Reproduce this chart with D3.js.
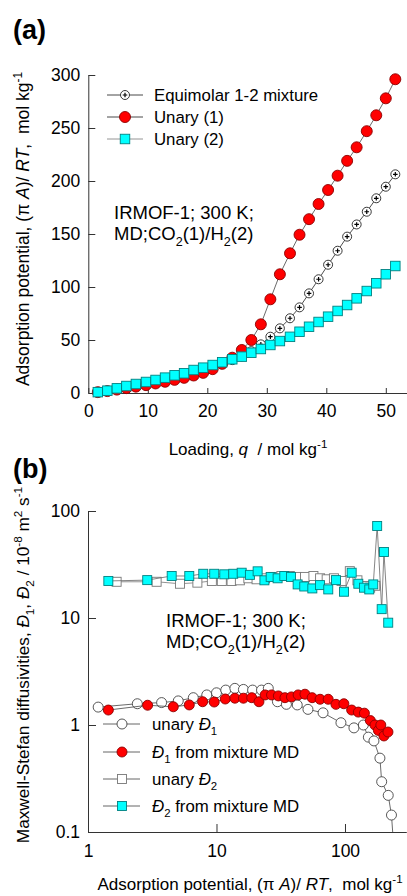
<!DOCTYPE html>
<html><head><meta charset="utf-8">
<script src="https://cdn.jsdelivr.net/npm/d3@7"></script>
<style>body{margin:0;background:#fff}svg{display:block;font-family:"Liberation Sans",Arial,sans-serif}</style>
</head><body>
<script>
// ---------- Panel (a) data ----------
const loadingA = [1.6,3.2,4.8,6.4,8.0,9.7,11.3,12.9,14.5,16.1,17.7,19.3,20.9,22.5,24.2,25.8,27.4,29.0,30.6,32.2,33.9,35.5,37.1,38.7,40.3,41.9,43.5,45.1,46.8,48.4,50.0,51.6];
const unary1A = [0.8,1.8,3.2,4.6,6.0,7.4,9.0,10.6,12.4,14.3,16.5,19.0,22.5,27.5,33.3,40.6,50.0,64.8,88.4,112,131.8,149.3,164,178.3,191.5,205,219,231.8,247,262,278,296];
const unary2A = [0.8,2.2,4.4,6.6,8.5,10.4,12.3,14.5,16.7,18.6,21.7,23.9,26.4,29.0,31.8,34.3,38.0,41.5,45.3,49.0,53.0,57.8,62.5,67.0,72.0,77.4,83.0,89.3,96.2,103.5,112,119.8];
const mixtureA = [0.8,2.0,3.8,5.6,7.3,9.0,10.8,12.6,14.6,16.5,19.2,21.5,24.3,27.5,31.0,34.5,39.5,45.9,53.1,61.0,70.5,80.8,94.0,107.3,121.0,134.2,147.5,159.0,171.0,183.7,194.6,206.3];
const xTicksA = [0,10,20,30,40,50];
const yTicksA = [0,50,100,150,200,250,300];

// ---------- Panel (b) data ----------
const d1UnaryX = [1.2,2.42,3.74,5.04,6.6,8.4,10.0,11.8,13.9,16.2,19.1,22.4,25.3,29.8,35,42.5,51.5,67.5,93,117.4,139,152,168,187,193,217,230,245];
const d1UnaryY = [1.47,1.58,1.62,1.68,1.80,1.91,2.0,2.12,2.2,2.15,2.12,2.12,2.2,1.65,1.56,1.54,1.40,1.30,1.05,0.94,1.0,0.77,0.71,0.49,0.295,0.22,0.144,0.05];
const d1MixX = [1.44,2.91,4.61,6.14,7.8,9.6,11.7,13.9,16.2,18.8,21.4,23.9,26.8,30.3,34.1,38.3,43.2,48.8,55.5,64,74,85,98,112.7,127,141.6,157.5,171,182,190,201,216];
const d1MixY = [1.38,1.53,1.48,1.54,1.65,1.64,1.75,1.78,1.78,1.80,1.65,1.91,1.91,1.87,1.80,1.83,1.91,1.94,1.80,1.74,1.74,1.56,1.58,1.38,1.32,1.29,1.10,1.0,0.89,1.0,0.79,0.86];
const d2UnaryX = [1.67,3.42,5.2,7.1,9.2,11,13.1,15.2,17.7,20.5,23.9,27.6,32,37.2,42,48.8,56.8,64,72,82,94,109,125,143,157,172];
const d2UnaryY = [21.8,21.8,20.9,21.4,22.2,22.2,22.2,22.5,23.5,23,23.5,24.2,24.7,24.7,24.2,24.2,24.7,23.5,23,23.5,22.2,27.4,22.5,19.9,19.2,20.0];
const d2MixX = [1.44,2.89,4.48,6.14,7.89,9.6,11.5,13.5,15.7,18.2,20.9,23.6,26.4,29.9,33.7,38,42.8,48.2,55.7,63.9,74.1,85.1,98.2,112.7,127,140.7,154.5,166,178,193,201,217];
const d2MixY = [22.2,22.6,24.7,24.7,25.9,25.9,25.6,25.9,26.5,25.3,27.3,22.5,24.2,23.5,24.7,24.2,20.6,19.7,18.9,20.3,18.5,22.6,17.6,26.5,20.9,19.2,18.5,20.6,72.4,12.1,41.4,9.04];
const xTicksB = [1,10,100];
const yTicksB = [0.1,1,10,100];

const W = 407, H = 896;
const svg = d3.select("body").append("svg").attr("width", W).attr("height", H);

function rich(textSel, parts, fs) {
  let cur = 0;
  parts.forEach(([t, m]) => {
    const ts = textSel.append("tspan").text(t);
    let target = 0;
    if (m === "sub" || m === "isub") target = 0.3 * fs;
    if (m === "sup") target = -0.42 * fs;
    if (target !== cur) { ts.attr("dy", target - cur); cur = target; }
    if (m === "sub" || m === "sup" || m === "isub") ts.attr("font-size", fs * 0.68);
    if (m === "i") ts.attr("font-style", "italic");
  });
}

const AX = "#333";
function styleAxis(g) {
  g.selectAll("path.domain").attr("stroke", AX).attr("stroke-width", 1);
  g.selectAll(".tick line").attr("stroke", AX);
  g.selectAll("text").attr("fill", "#000").attr("font-size", 17.5).attr("font-family", "Liberation Sans, Arial, sans-serif");
}

// ================= Panel (a) =================
const xA = d3.scaleLinear().domain([0, 54]).range([88.3, 409.6]);
const yA = d3.scaleLinear().domain([0, 300]).range([393, 75]);

svg.append("text").attr("x", 13).attr("y", 39).attr("font-size", 27).attr("font-weight", "bold").text("(a)");

const gxA = svg.append("g").attr("transform", `translate(0,${yA(0)})`);
gxA.call(d3.axisBottom(xA).tickValues(d3.range(0, 54, 2)).tickSize(-5).tickSizeOuter(0).tickFormat(""));
gxA.call(d3.axisBottom(xA).tickValues(xTicksA).tickSize(-5).tickSizeOuter(0).tickPadding(12));
styleAxis(gxA);
const gyA = svg.append("g").attr("transform", `translate(${xA(0)},0)`);
gyA.call(d3.axisLeft(yA).tickValues(d3.range(0, 301, 10)).tickSize(-5).tickSizeOuter(0).tickFormat(""));
gyA.call(d3.axisLeft(yA).tickValues(yTicksA).tickSize(-7).tickSizeOuter(0).tickPadding(8));
styleAxis(gyA);

const xlabA = svg.append("text").attr("x", 248).attr("y", 455).attr("text-anchor", "middle").attr("font-size", 17).attr("xml:space", "preserve");
rich(xlabA, [["Loading, ", ""], ["q", "i"], ["  / mol kg", ""], ["-1", "sup"]], 17);
const ylabA = svg.append("text").attr("transform", "translate(29,229) rotate(-90)").attr("text-anchor", "middle").attr("font-size", 17.5).attr("xml:space", "preserve");
rich(ylabA, [["Adsorption potential, (\u03C0 ", ""], ["A", "i"], [")/ ", ""], ["RT", "i"], [",  mol kg", ""], ["-1", "sup"]], 17.5);

const lineA = d3.line().x(d => xA(d[0])).y(d => yA(d[1]));
const mixData = d3.zip(loadingA, mixtureA);
const u1Data = d3.zip(loadingA, unary1A);
const u2Data = d3.zip(loadingA, unary2A);

function drawMix(g, pts, sx, sy, r) {
  const gg = g.append("g");
  pts.forEach(d => {
    const cx = sx(d), cy = sy(d);
    gg.append("circle").attr("cx", cx).attr("cy", cy).attr("r", r).attr("fill", "#fff").attr("stroke", "#222").attr("stroke-width", 0.9);
    gg.append("path").attr("d", `M${cx-2.3},${cy}H${cx+2.3}M${cx},${cy-2.3}V${cy+2.3}`).attr("stroke", "#000").attr("stroke-width", 1.2);
  });
}
function drawCircles(g, pts, sx, sy, r, fill, stroke) {
  g.append("g").selectAll("circle").data(pts).join("circle")
    .attr("cx", sx).attr("cy", sy).attr("r", r).attr("fill", fill).attr("stroke", stroke).attr("stroke-width", 0.9);
}
function drawSquares(g, pts, sx, sy, s, fill, stroke) {
  g.append("g").selectAll("rect").data(pts).join("rect")
    .attr("x", d => sx(d) - s / 2).attr("y", d => sy(d) - s / 2).attr("width", s).attr("height", s)
    .attr("fill", fill).attr("stroke", stroke).attr("stroke-width", 0.9);
}

const pA = svg.append("g");
pA.append("path").datum(mixData).attr("d", lineA).attr("fill", "none").attr("stroke", "#222").attr("stroke-width", 0.8);
drawMix(pA, mixData, d => xA(d[0]), d => yA(d[1]), 4.5);
pA.append("path").datum(u1Data).attr("d", lineA).attr("fill", "none").attr("stroke", "#444").attr("stroke-width", 0.8);
drawCircles(pA, u1Data, d => xA(d[0]), d => yA(d[1]), 5.5, "#ff0000", "#8b0000");
pA.append("path").datum(u2Data).attr("d", lineA).attr("fill", "none").attr("stroke", "#888").attr("stroke-width", 0.8);
drawSquares(pA, u2Data, d => xA(d[0]), d => yA(d[1]), 9.5, "#00ffff", "#008080");

const legA = svg.append("g");
const legItemsA = ["Equimolar 1-2 mixture", "Unary (1)", "Unary (2)"];
const legYA = [95, 117, 139];
legItemsA.forEach((lab, i) => {
  const y = legYA[i];
  legA.append("line").attr("x1", 107).attr("x2", 143).attr("y1", y).attr("y2", y).attr("stroke", i === 2 ? "#888" : "#333").attr("stroke-width", 0.9);
  if (i === 0) drawMix(legA, [0], () => 125, () => y, 4.5);
  if (i === 1) drawCircles(legA, [0], () => 125, () => y, 5.5, "#ff0000", "#8b0000");
  if (i === 2) drawSquares(legA, [0], () => 125, () => y, 9.5, "#00ffff", "#008080");
  legA.append("text").attr("x", 154).attr("y", y + 6).attr("font-size", 16.8).text(lab);
});

svg.append("text").attr("x", 114).attr("y", 219).attr("font-size", 18.5).text("IRMOF-1; 300 K;");
const annA = svg.append("text").attr("x", 114).attr("y", 240).attr("font-size", 18.5);
rich(annA, [["MD;CO", ""], ["2", "sub"], ["(1)/H", ""], ["2", "sub"], ["(2)", ""]], 18.5);

// ================= Panel (b) =================
const xB = d3.scaleLog().domain([1, 300]).range([88, 406.3]);
const yB = d3.scaleLog().domain([0.1, 100]).range([832, 511]);

svg.append("text").attr("x", 13).attr("y", 478).attr("font-size", 27).attr("font-weight", "bold").text("(b)");

const minorX = [];
[1, 10, 100].forEach(d => { for (let k = 2; k <= 9; k++) if (d * k <= 300) minorX.push(d * k); });
const minorY = [];
[0.1, 1, 10].forEach(d => { for (let k = 2; k <= 9; k++) minorY.push(d * k); });

const gxB = svg.append("g").attr("transform", `translate(0,${yB(0.1)})`);
gxB.call(d3.axisBottom(xB).tickValues(minorX).tickSize(-5).tickSizeOuter(0).tickFormat(""));
gxB.call(d3.axisBottom(xB).tickValues(xTicksB).tickSize(-8).tickSizeOuter(0).tickPadding(13).tickFormat(d3.format("")));
styleAxis(gxB);
const gyB = svg.append("g").attr("transform", `translate(${xB(1)},0)`);
gyB.call(d3.axisLeft(yB).tickValues(minorY).tickSize(-5).tickSizeOuter(0).tickFormat(""));
gyB.call(d3.axisLeft(yB).tickValues(yTicksB).tickSize(-8).tickSizeOuter(0).tickPadding(8).tickFormat(d => d < 1 ? "0.1" : String(d)));
styleAxis(gyB);

const xlabB = svg.append("text").attr("x", 250).attr("y", 890).attr("text-anchor", "middle").attr("font-size", 17).attr("xml:space", "preserve");
rich(xlabB, [["Adsorption potential, (\u03C0 ", ""], ["A", "i"], [")/ ", ""], ["RT", "i"], [",  mol kg", ""], ["-1", "sup"]], 17);
const ylabB = svg.append("text").attr("transform", "translate(29,665) rotate(-90)").attr("text-anchor", "middle").attr("font-size", 17.2).attr("xml:space", "preserve");
rich(ylabB, [["Maxwell-Stefan diffusivities, ", ""], ["\u0110", "i"], ["1", "sub"], [", ", ""], ["\u0110", "i"], ["2", "sub"], [" / 10", ""], ["-8", "sup"], [" m", ""], ["2", "sup"], [" s", ""], ["-1", "sup"]], 17.2);

svg.append("defs").append("clipPath").attr("id", "clipB").append("rect").attr("x", 80).attr("y", 490).attr("width", 330).attr("height", 342);
const pB = svg.append("g").attr("clip-path", "url(#clipB)");
const lineB = d3.line().x(d => xB(d[0])).y(d => yB(d[1]));
const d2U = d3.zip(d2UnaryX, d2UnaryY);
const d2M = d3.zip(d2MixX, d2MixY);
const d1U = d3.zip(d1UnaryX, d1UnaryY);
const d1M = d3.zip(d1MixX, d1MixY);
const bx = d => xB(d[0]), by = d => yB(d[1]);

pB.append("path").datum(d2U).attr("d", lineB).attr("fill", "none").attr("stroke", "#777").attr("stroke-width", 0.8);
drawSquares(pB, d2U, bx, by, 9, "#fff", "#777");
pB.append("path").datum(d2M).attr("d", lineB).attr("fill", "none").attr("stroke", "#666").attr("stroke-width", 0.8);
drawSquares(pB, d2M, bx, by, 9, "#00ffff", "#008080");
pB.append("path").datum(d1U).attr("d", lineB).attr("fill", "none").attr("stroke", "#444").attr("stroke-width", 0.8);
drawCircles(pB, d1U, bx, by, 5, "#fff", "#444");
pB.append("path").datum(d1M).attr("d", lineB).attr("fill", "none").attr("stroke", "#444").attr("stroke-width", 0.8);
drawCircles(pB, d1M, bx, by, 5, "#ff0000", "#8b0000");

const legB = svg.append("g");
const legYB = [724, 752, 779, 806];
const legLabB = [
  [["unary ", ""], ["\u0110", "i"], ["1", "isub"]],
  [["\u0110", "i"], ["1", "isub"], [" from mixture MD", ""]],
  [["unary ", ""], ["\u0110", "i"], ["2", "isub"]],
  [["\u0110", "i"], ["2", "isub"], [" from mixture MD", ""]]
];
legYB.forEach((y, i) => {
  legB.append("line").attr("x1", 103).attr("x2", 140).attr("y1", y).attr("y2", y).attr("stroke", "#555").attr("stroke-width", 0.9);
  if (i === 0) drawCircles(legB, [0], () => 122, () => y, 5, "#fff", "#444");
  if (i === 1) drawCircles(legB, [0], () => 122, () => y, 5, "#ff0000", "#8b0000");
  if (i === 2) drawSquares(legB, [0], () => 122, () => y, 9, "#fff", "#777");
  if (i === 3) drawSquares(legB, [0], () => 122, () => y, 9, "#00ffff", "#008080");
  const t = legB.append("text").attr("x", 152).attr("y", y + 6).attr("font-size", 16.8).attr("xml:space", "preserve");
  rich(t, legLabB[i], 16.8);
});

svg.append("text").attr("x", 166).attr("y", 627).attr("font-size", 18.5).text("IRMOF-1; 300 K;");
const annB = svg.append("text").attr("x", 166).attr("y", 648).attr("font-size", 18.5);
rich(annB, [["MD;CO", ""], ["2", "sub"], ["(1)/H", ""], ["2", "sub"], ["(2)", ""]], 18.5);
</script>
</body></html>
